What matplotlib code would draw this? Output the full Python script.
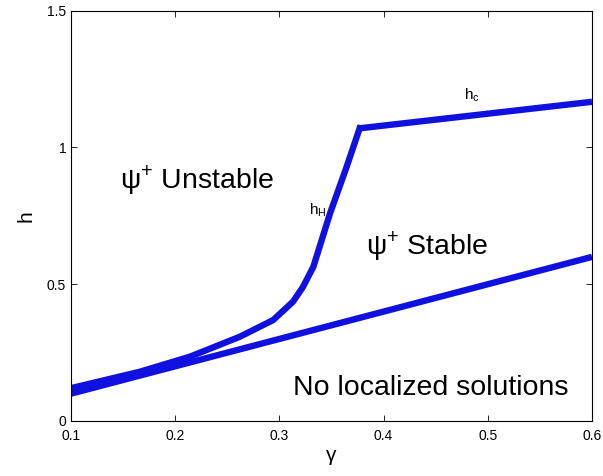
import matplotlib
matplotlib.use("Agg")
import matplotlib.pyplot as plt

plt.rcParams.update(
    {
        "font.family": ["Liberation Sans", "DejaVu Sans"],
        "mathtext.fontset": "custom",
        "mathtext.rm": "Liberation Sans",
        "xtick.direction": "in",
        "ytick.direction": "in",
        "xtick.top": True,
        "ytick.right": True,
    }
)

# lower boundary: h = gamma
gamma_low = [0.1, 0.6]
h_low = [0.1, 0.6]

# h_H branch up to the corner, then h_c
gamma_H = [0.1, 0.166, 0.214, 0.262, 0.294, 0.313, 0.3226, 0.3326, 0.3486, 0.3646, 0.377]
h_H = [0.12, 0.18, 0.235, 0.308, 0.369, 0.436, 0.49, 0.564, 0.759, 0.930, 1.07]
gamma_c = [0.377, 0.6]
h_c = [1.07, 1.167]

xticks = [0.1, 0.2, 0.3, 0.4, 0.5, 0.6]
yticks = [0, 0.5, 1, 1.5]
ytick_labels = ["0", "0.5", "1", "1.5"]

fig = plt.figure(figsize=(6.03, 4.76), dpi=100)
ax = fig.add_axes([71 / 603, 1 - 421 / 476, (592 - 71) / 603, (421 - 10.7) / 476])

blue = "#1010e0"
ax.plot(gamma_low, h_low, color=blue, lw=4.6, solid_capstyle="butt")
ax.plot(gamma_H, h_H, color=blue, lw=4.6, solid_joinstyle="round")
ax.plot(gamma_c, h_c, color=blue, lw=4.6, solid_capstyle="butt")

ax.set_xlim(0.1, 0.6)
ax.set_ylim(0, 1.5)
ax.set_xticks(xticks)
ax.set_xticklabels([f"{t:g}" for t in xticks])
ax.set_yticks(yticks)
ax.set_yticklabels(ytick_labels)
ax.tick_params(labelsize=10, length=4, width=0.6)
ax.tick_params(axis="x", pad=6)
for s in ax.spines.values():
    s.set_linewidth(0.8)

ax.set_xlabel("γ", fontsize=15, labelpad=2)
ax.set_ylabel("h", fontsize=15, labelpad=8)

ax.text(0.221, 0.88, "ψ$^\\mathregular{+}$ Unstable", fontsize=20.5, ha="center", va="center")
ax.text(0.442, 0.64, "ψ$^\\mathregular{+}$ Stable", fontsize=20.5, ha="center", va="center")
ax.text(0.445, 0.12, "No localized solutions", fontsize=20.5, ha="center", va="center")
ax.text(0.337, 0.77, r"h$_\mathregular{H}$", fontsize=11, ha="center", va="center")
ax.text(0.485, 1.19, r"h$_\mathregular{c}$", fontsize=11, ha="center", va="center")

fig.savefig("out.png", dpi=100)
